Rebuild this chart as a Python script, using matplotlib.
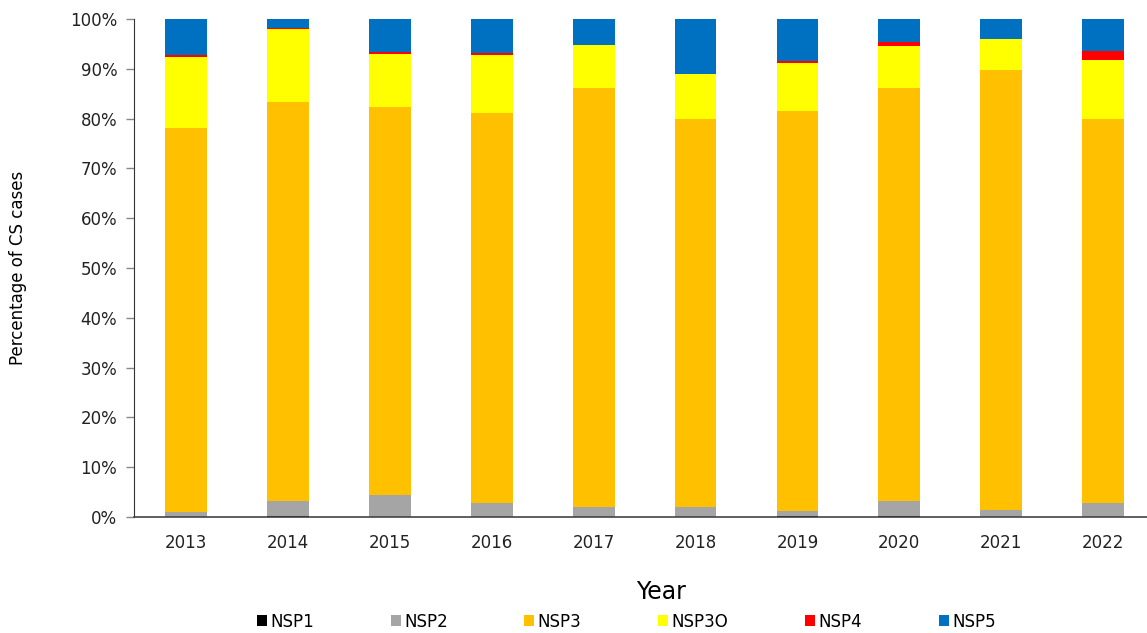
import matplotlib
matplotlib.use("Agg")
import matplotlib.pyplot as plt
import numpy as np
from matplotlib.ticker import PercentFormatter

years = ["2013", "2014", "2015", "2016", "2017", "2018", "2019", "2020", "2021", "2022"]

# share of CS cases per group (%), stacked bottom to top
nsp1 = [0.0, 0.2, 0.0, 0.0, 0.0, 0.0, 0.2, 0.2, 0.0, 0.0]
nsp2 = [1.1, 3.0, 4.4, 2.8, 2.0, 2.0, 1.1, 3.0, 1.5, 2.75]
nsp3 = [77.1, 80.2, 77.9, 78.3, 84.1, 78.0, 80.2, 82.9, 88.3, 77.15]
nsp3o = [14.2, 14.5, 10.7, 11.6, 8.7, 8.9, 9.7, 8.5, 6.2, 11.9]
nsp4 = [0.3, 0.3, 0.4, 0.4, 0.0, 0.0, 0.4, 0.8, 0.0, 1.8]
nsp5 = [7.3, 1.8, 6.6, 6.9, 5.2, 11.1, 8.4, 4.6, 4.0, 6.4]

series = [
    ("NSP1", nsp1, "#000000"),
    ("NSP2", nsp2, "#A5A5A5"),
    ("NSP3", nsp3, "#FFC000"),
    ("NSP3O", nsp3o, "#FFFF00"),
    ("NSP4", nsp4, "#FF0000"),
    ("NSP5", nsp5, "#0070C0"),
]

fig = plt.figure(figsize=(11.47, 6.33), dpi=100)
ax = fig.add_axes([134 / 1147, 1 - 517 / 633, 1013 / 1147, 498 / 633])

x = np.arange(len(years))
bottom = np.zeros(len(years))
for name, vals, color in series:
    vals = np.array(vals, dtype=float)
    ax.bar(x, vals, 0.41, bottom=bottom, color=color, label=name, linewidth=0)
    bottom += vals

ax.set_xlim(-0.51, 9.43)
ax.set_ylim(0, 100)
ax.set_yticks(np.arange(0, 101, 10))
ax.yaxis.set_major_formatter(PercentFormatter(decimals=0))
ax.set_xticks(x)
ax.set_xticklabels(years)
ax.tick_params(axis="x", length=0, pad=12, labelsize=12, colors="#222222")
ax.tick_params(axis="y", length=6, width=1, color="#888888", pad=6, labelsize=12, labelcolor="#222222")

for side in ("top", "right"):
    ax.spines[side].set_visible(False)
ax.spines["left"].set_color("#333333")
ax.spines["bottom"].set_color("#444444")
ax.spines["bottom"].set_linewidth(1.2)

ax.set_ylabel("Percentage of CS cases", fontsize=12)
ax.yaxis.set_label_coords(-0.106, 0.5)
ax.set_xlabel("Year", fontsize=17)
ax.xaxis.set_label_coords(0.52, -0.127)

handles, labels = ax.get_legend_handles_labels()
fig.legend(handles, labels, loc="center", bbox_to_anchor=(0.546, 0.018), ncol=6,
           frameon=False, fontsize=12, handlelength=0.6, handleheight=0.6,
           handletextpad=0.2, columnspacing=4.6)

fig.savefig("out.png", dpi=100)
